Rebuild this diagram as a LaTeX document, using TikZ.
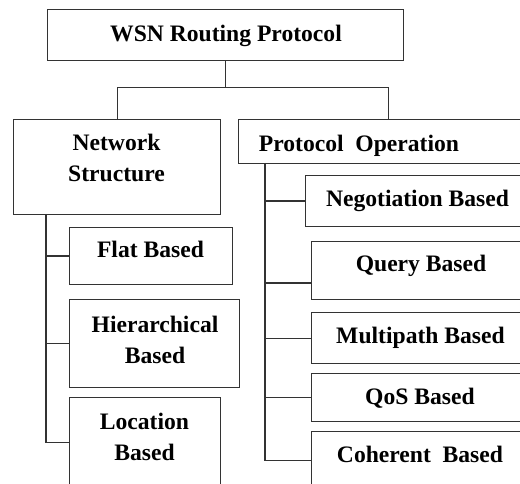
\documentclass[tikz,border=0pt]{standalone}
\usepackage{fontspec}
\setmainfont{Liberation Serif}

\tikzset{
  box/.style={draw=black!80, line width=1.1pt, anchor=north west, inner sep=0pt},
  lbl/.style={font=\bfseries\fontsize{23.6}{31}\selectfont, anchor=base, align=center, inner sep=0pt},
  link/.style={draw=black!80, line width=1.1pt}
}

\begin{document}
\begin{tikzpicture}[x=1pt,y=-1pt]
        \useasboundingbox[fill=white] (0,0) rectangle (520,484);
        \clip (0,0) rectangle (520,484);

        \node[box, minimum width=356, minimum height=51] (wsn) at (47,9) {};
        \node[box, minimum width=207, minimum height=95] (net) at (13,119) {};
        \node[box, minimum width=300, minimum height=44] (ops) at (238,119) {};

        \node[box, minimum width=163, minimum height=57] (flat) at (69,227) {};
        \node[box, minimum width=170, minimum height=88] (hier) at (69,299) {};
        \node[box, minimum width=151, minimum height=90] (loc) at (69,397) {};

        \node[box, minimum width=225, minimum height=51] (nego) at (305,175) {};
        \node[box, minimum width=219, minimum height=58] (query) at (311,241) {};
        \node[box, minimum width=219, minimum height=51] (multi) at (311,312) {};
        \node[box, minimum width=219, minimum height=48] (qos) at (311,373) {};
        \node[box, minimum width=219, minimum height=58] (coher) at (311,431) {};

        \node[lbl] (wsn-t) at (226,42) {WSN Routing Protocol};
        \node[lbl] (net-t) at (116.5,182) {Network\\Structure};
        \node[lbl] (ops-t) at (359,152) {Protocol\ \ Operation};
        \node[lbl] (flat-t) at (150.5,258) {Flat Based};
        \node[lbl] (hier-t) at (155,363) {Hierarchical\\Based};
        \node[lbl] (loc-t) at (144.5,460) {Location\\Based};
        \node[lbl] (nego-t) at (417.5,207) {Negotiation Based};
        \node[lbl] (query-t) at (421,272) {Query Based};
        \node[lbl] (multi-t) at (420.5,343) {Multipath Based};
        \node[lbl] (qos-t) at (420,404) {QoS Based};
        \node[lbl] (coher-t) at (420,462) {Coherent\ \ Based};

        \draw[link] (wsn.south) -- ++(0,26) coordinate (fork);
        \draw[link] (net.north) |- (fork) -| (ops.north);

        \coordinate (ltrunk) at (46,214);
        \draw[link] (ltrunk) |- (loc.west);
        \foreach \b in {flat,hier}
          \draw[link] (ltrunk |- \b.west) -- (\b.west);

        \coordinate (rtrunk) at (265,163);
        \coordinate (qjoin) at (311,283);
        \draw[link] (rtrunk) |- (coher.west);
        \draw[link] (rtrunk |- qjoin) -- (qjoin);
        \foreach \b in {nego,multi,qos}
          \draw[link] (rtrunk |- \b.west) -- (\b.west);
      \end{tikzpicture}
\end{document}
